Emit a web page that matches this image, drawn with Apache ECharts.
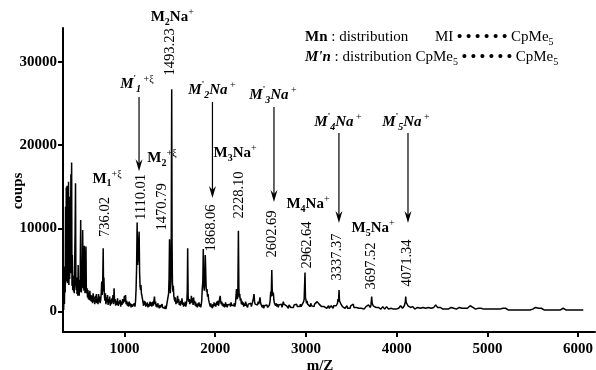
<!DOCTYPE html>
<html>
<head>
<meta charset="utf-8">
<script src="https://cdn.jsdelivr.net/npm/echarts@6/dist/echarts.min.js"></script>
<style>
  html, body { margin: 0; padding: 0; background: #fff; }
  #main { width: 596px; height: 370px; }
</style>
</head>
<body>
<div id="main"></div>
<script>
const FONT = '"Liberation Serif", "Times New Roman", serif';

// 坐标轴刻度
const xTicks = [1000, 2000, 3000, 4000, 5000, 6000];
const yTicks = [0, 10000, 20000, 30000];

// 质谱数据 [m/z, coups]
const spectrumLow = [
  [330,200],[335,2100],[339,900],[343,5400],[347,2300],[351,12600],[355,3600],[359,14900],[363,6200],[367,15100],
  [371,3400],[375,11800],[379,4800],[384,15600],[388,3200],[392,8800],[396,3900],[401,13800],[405,4600],[410,16500],
  [414,5200],[418,17900],[422,3100],[426,6800],[430,2600],[435,4300],[439,2400],[443,3700],[447,2200],[452,5900],
  [456,9400],[461,15400],[465,3300],[469,2600],[473,4100],[477,2100],[481,3300],[486,1900],[490,5600],[494,2500],
  [498,3400],[502,1900],[507,3800],[511,2400],[514,6300],[518,11000],[522,2900],[526,2300],[530,5200],[535,3100],
  [540,9800],[544,2800],[549,5400],[553,2500],[558,7900],[562,3400],[566,2200],[571,4200],[576,7800],[580,2900],
  [584,2200],[589,2800],[593,1700],[598,2600],[603,1500],[608,2300],[613,1400],[619,2500],[625,1300],[631,2000],
  [637,1200],[643,1900],[649,1000],[655,2200],[661,1200],[667,1700],[673,900],[679,1900],[685,1100],[691,2100],
  [697,1000],[703,1600],[709,900],[715,2100],[721,1200],[727,1800],[733,1000],[739,1500],[745,2300],[750,3600],
  [755,2000],[760,3000],[766,7600],[770,2400],[774,4100],[779,2000],[784,1300],[790,2200],[796,900],[802,1700],
  [808,1100],[814,2000],[820,800],[826,1500],[832,1000],[838,1800],[844,700],[850,1400],[856,900],[862,1600],
  [868,1100],[874,2000],[880,900],[886,2800],[891,1100],[897,1500],[903,700],[910,1300],[917,800],[924,1600],
  [931,700],[938,1200],[945,900],[952,1400],[959,600],[966,1200],[973,800],[980,1500],[987,1000],[994,1300],
  [1000,1900],[1006,1200],[1012,2000],[1018,900],[1025,1300],[1032,700],[1039,1100],[1046,600],[1053,1200],[1060,700],
  [1067,1000],[1074,500],[1081,900],[1088,600],[1095,800]
];
const spectrumMid = [
  [1102,500],[1109,1000],[1116,600],[1122,1200],[1128,2600],[1134,5200],[1140,10700],[1145,5600],[1150,6300],[1156,8200],
  [1162,9600],[1167,4800],[1172,3100],[1177,2600],[1182,3200],[1187,2200],[1193,1900],[1199,1500],[1205,1100],[1211,700],
  [1217,1300],[1223,800],[1229,1200],[1235,600],[1241,1000],[1247,700],[1253,1100],[1259,500],[1265,900],[1271,600],
  [1277,800],[1283,1200],[1289,700],[1295,1100],[1301,600],[1307,900],[1313,1200],[1319,700],[1325,1300],[1331,1800],
  [1337,900],[1343,1200],[1349,600],[1355,900],[1361,500],[1367,1000],[1373,700],[1379,900],[1385,400],[1391,800],
  [1397,500],[1403,700],[1409,400],[1415,900],[1421,500],[1427,700],[1433,300],[1439,600],[1445,400],[1451,700],
  [1457,300],[1463,600],[1469,400],[1475,500],[1481,800],[1487,2200],[1492,4000],[1497,8700],[1501,3300],[1506,2200],
  [1511,3600],[1516,9000],[1521,26700],[1525,8200],[1529,3500],[1534,2400],[1539,3100],[1544,1900],[1550,1500],[1556,1200],
  [1562,1700],[1568,900],[1574,1300],[1580,1000],[1586,1900],[1592,1100],[1598,1500],[1604,800],[1610,1200],[1616,700],
  [1622,1300],[1628,900],[1634,1600],[1640,800],[1646,1100],[1652,600],[1658,1000],[1664,700],[1670,1200],[1676,600],
  [1682,900],[1688,1300],[1693,2600],[1697,7600],[1702,1900],[1708,1200],[1714,1500],[1720,900],[1726,1400],[1732,1000],
  [1738,1900],[1744,1100],[1750,1600],[1756,800],[1762,1700],[1768,1000],[1774,1300],[1780,700],[1786,1100],[1792,600],
  [1798,900],[1804,500],[1810,1000],[1816,700],[1822,1100],[1828,600],[1834,900],[1840,500],[1846,800],[1852,1300],
  [1858,2800],[1864,3600],[1869,7500],[1874,3200],[1880,2500],[1886,3800],[1891,6800],[1896,6900],[1900,3000],[1905,2400],
  [1910,2700],[1916,1800],[1922,2100],[1928,1400],[1934,1100],[1940,900],[1946,600],[1952,1000],[1958,500],[1964,800],
  [1970,400],[1976,900],[1982,600],[1988,1100],[1994,700],[2000,1000],[2006,600],[2012,900],[2018,1200],[2024,800],
  [2030,1300],[2036,700],[2042,1000],[2048,1500],[2055,1900],[2061,1200],[2067,900],[2073,1200],[2079,700],[2085,1000],
  [2091,600],[2097,900],[2103,500],[2109,800],[2115,1100],[2121,600],[2127,900],[2133,500],[2139,800],[2145,600],
  [2151,1000],[2157,700],[2163,900],[2169,600],[2175,1100],[2181,800],[2187,1000],[2193,600],[2199,900],[2205,700],
  [2211,1000],[2217,600],[2223,900],[2229,700],[2235,2700],[2240,1800],[2245,1500],[2250,2300],[2256,9700],[2261,2900],
  [2266,1700],[2271,2100],[2277,1300],[2283,1600],[2289,900],[2295,1300]
];
const spectrumHigh = [
  [2301,800],[2308,1100],[2315,600],[2322,1000],[2329,700],[2336,1200],[2343,800],[2350,1000],[2357,500],[2364,900],
  [2371,700],[2378,1100],[2385,800],[2392,1000],[2399,600],[2406,900],[2413,700],[2420,1500],[2428,2100],[2434,1200],
  [2440,900],[2446,1100],[2453,700],[2460,1000],[2467,800],[2474,1200],[2481,900],[2488,1300],[2494,1700],[2500,1100],
  [2507,800],[2514,1000],[2521,500],[2528,800],[2535,400],[2542,700],[2549,500],[2556,900],[2563,600],[2570,800],
  [2577,500],[2584,700],[2591,500],[2598,800],[2605,1200],[2612,2400],[2618,1800],[2624,5000],[2629,2500],[2635,1900],
  [2641,2300],[2647,1400],[2653,1000],[2660,1200],[2667,700],[2674,1000],[2681,600],[2688,900],[2695,500],[2702,800],
  [2709,600],[2716,1000],[2723,700],[2730,900],[2737,500],[2744,800],[2751,1200],[2758,900],[2765,700],[2772,900],
  [2779,1100],[2786,700],[2793,500],[2800,700],[2807,400],[2814,800],[2821,600],[2828,900],[2835,500],[2842,700],
  [2849,400],[2856,700],[2863,500],[2870,800],[2877,600],[2884,1000],[2891,700],[2898,900],[2905,600],[2912,800],
  [2919,500],[2926,700],[2933,600],[2940,900],[2947,600],[2954,800],[2961,500],[2968,700],[2975,1200],[2981,1500],
  [2986,1300],[2990,4700],[2995,1700],[3001,1400],[3007,1000],[3013,1300],[3019,900],[3026,1100],[3033,700],[3040,900],
  [3047,600],[3054,1000],[3061,700],[3068,900],[3075,500],[3082,800],[3089,600],[3096,900],[3103,700],[3110,1000],
  [3117,800],[3124,1200],[3131,1000],[3138,1400],[3145,900],[3152,1100],[3159,700],[3166,900],[3173,600],[3180,800],
  [3187,500],[3194,700],[3201,600],[3208,800],[3215,500],[3222,700],[3229,400],[3236,600],[3243,500],[3250,700],
  [3257,400],[3264,600],[3271,500],[3278,700],[3285,500],[3292,600],[3299,400],[3306,700],[3313,600],[3320,800],
  [3327,500],[3334,700],[3341,600],[3348,1000],[3354,1500],[3360,1200],[3365,2600],[3370,1300],[3376,1500],[3382,1000],
  [3389,800],[3396,1000],[3403,600],[3410,800],[3417,500],[3424,700],[3431,400],[3438,600],[3445,500],[3452,700],
  [3459,400],[3466,600],[3473,300],[3480,500],[3487,400],[3494,700],[3501,500],[3508,800],[3515,600],[3522,900],
  [3529,500],[3536,700],[3543,400],[3550,600],[3557,500],[3564,700],[3571,400],[3578,600],[3585,400],[3592,500],
  [3599,300],[3606,500],[3613,400],[3620,600],[3627,400],[3634,500],[3641,300],[3648,500],[3655,400],[3662,600],
  [3669,500],[3676,700],[3683,500],[3690,800],[3697,600],[3704,700],[3711,500],[3717,800],[3721,1000],[3725,1800],
  [3730,1000],[3736,900],[3742,700],[3749,800],[3756,600],[3763,700],[3770,500],[3777,600],[3784,400],[3791,600],
  [3798,500],[3805,700],[3812,400],[3819,500],[3826,300],[3833,500],[3840,400],[3847,600],[3854,400],[3861,500],
  [3868,300],[3875,500],[3882,400],[3889,600],[3896,400],[3903,500],[3910,300],[3917,400],[3924,300],[3931,500],
  [3938,400],[3945,600],[3952,400],[3959,500],[3966,300],[3973,500],[3980,400],[3987,500],[3994,300],[4001,400],
  [4008,300],[4015,500],[4022,400],[4029,600],[4036,500],[4043,700],[4050,500],[4057,600],[4064,400],[4071,600],
  [4078,500],[4085,700],[4091,900],[4096,1200],[4100,1800],[4105,1100],[4111,900],[4118,1000],[4125,700],[4132,800],
  [4139,500]
];
const spectrumTail = [
  [4146,700],[4153,500],[4160,600],[4168,400],[4176,600],[4184,400],[4192,500],[4200,300],[4210,500],[4220,400],
  [4230,500],[4240,300],[4250,500],[4260,400],[4270,600],[4280,400],[4290,500],[4300,300],[4310,500],[4320,400],
  [4330,600],[4340,400],[4350,500],[4360,300],[4370,500],[4380,400],[4390,600],[4400,400],[4410,500],[4420,600],
  [4430,800],[4440,700],[4450,500],[4460,600],[4470,400],[4480,500],[4490,400],[4500,500],[4510,300],[4520,400],
  [4530,500],[4540,300],[4550,400],[4560,500],[4570,300],[4580,400],[4590,300],[4600,500],[4610,400],[4620,300],
  [4630,400],[4640,300],[4650,500],[4660,300],[4670,400],[4680,300],[4690,500],[4700,400],[4710,300],[4720,400],
  [4730,500],[4740,300],[4750,400],[4760,300],[4770,500],[4780,400],[4790,600],[4800,500],[4810,700],[4820,900],
  [4830,600],[4840,500],[4850,400],[4860,500],[4870,300],[4880,400],[4890,300],[4900,400],[4915,300],[4930,400],
  [4945,200],[4960,300],[4975,400],[4990,300],[5005,200],[5020,300],[5035,200],[5050,300],[5065,400],[5080,300],
  [5095,200],[5110,300],[5125,400],[5140,300],[5155,500],[5170,400],[5185,300],[5200,400],[5215,300],[5230,200],
  [5245,300],[5260,200],[5275,300],[5290,200],[5305,300],[5320,200],[5335,300],[5350,200],[5365,300],[5380,200],
  [5395,300],[5410,200],[5425,300],[5440,200],[5455,300],[5470,200],[5485,300],[5500,300],[5515,400],[5530,500],
  [5540,700],[5550,500],[5565,400],[5580,300],[5595,400],[5610,300],[5625,200],[5640,300],[5655,200],[5670,300],
  [5685,200],[5700,300],[5715,200],[5730,300],[5745,200],[5760,300],[5775,200],[5790,300],[5805,200],[5820,300],
  [5835,400],[5850,300],[5865,200],[5880,300],[5895,200],[5910,300],[5925,200],[5940,300],[5955,200],[5970,300],
  [5985,200],[6000,300],[6015,200],[6030,300],[6045,200],[6057,200]
];

// 峰值质量标注（竖排）
const peakNames = ['736.02', '1110.01', '1470.79', '1493.23', '1868.06', '2228.10', '2602.69', '2962.64', '3337.37', '3697.52', '4071.34'];
const peakMz = [786, 1183, 1414, 1502, 1954, 2263, 2626, 3012, 3343, 3718, 4114];
const peakY = [11360, 13770, 12570, 31180, 10040, 14000, 9320, 8000, 6560, 5480, 5840];

// 离子标注
const ionNames = [
  '{b|M}{bs|1}{sp|+ξ}',
  '{i|M}{ip|\'}{is|1}{sp| +ξ}',
  '{b|M}{bs|2}{sp|+ξ}',
  '{b|M}{bs|2}{b|Na}{sp|+}',
  '{i|M}{ip|\'}{is|2}{i|Na}{sp| +}',
  '{b|M}{bs|3}{b|Na}{sp|+}',
  '{i|M}{ip|\'}{is|3}{i|Na}{sp| +}',
  '{b|M}{bs|4}{b|Na}{sp|+}',
  '{i|M}{ip|\'}{is|4}{i|Na}{sp| +}',
  '{b|M}{bs|5}{b|Na}{sp|+}',
  '{i|M}{ip|\'}{is|5}{i|Na}{sp| +}'
];
const ionMz = [808, 1138, 1414, 1527, 1965, 2219, 2637, 3023, 3354, 3740, 4103];
const ionY = [15930, 27330, 18450, 35380, 26610, 19050, 26010, 12920, 22770, 10040, 22770];

// 箭头
const arrowMz = [1161, 1970, 2648, 3364, 4125];
const arrowTop = [25760, 25170, 24570, 21450, 21450];
const arrowTip = [16860, 13640, 13160, 10640, 10640];

const axisStyle = { color: '#000', width: 2 };
const tickFont = { color: '#000', fontFamily: FONT, fontWeight: 'bold', fontSize: 15, formatter: (v) => String(v) };

// 配置项
let option = {
    animation: false,
    backgroundColor: '#fff',
    grid: { left: 63, right: 1, top: 28, bottom: 38, outerBoundsMode: 'none' },
    xAxis: {
        type: 'value',
        min: 323,
        max: 6186,
        axisLine: { show: true, onZero: false, lineStyle: axisStyle },
        axisTick: { show: true, length: 5, customValues: xTicks, lineStyle: axisStyle },
        axisLabel: Object.assign({ customValues: xTicks, margin: 10 }, tickFont),
        splitLine: { show: false }
    },
    yAxis: {
        type: 'value',
        min: -2450,
        max: 34050,
        axisLine: { show: true, onZero: false, lineStyle: axisStyle },
        axisTick: { show: true, length: 5, customValues: yTicks, lineStyle: axisStyle },
        axisLabel: Object.assign({ customValues: yTicks, margin: 6 }, tickFont),
        splitLine: { show: false }
    },
    series: [{
        type: 'line',
        data: spectrumLow.concat(spectrumMid, spectrumHigh, spectrumTail),
        symbol: 'none',
        lineStyle: { color: '#000', width: 1.5 }
    }]
};

const richStyles = {
    b: { fontFamily: FONT, fontWeight: 'bold', fontSize: 15, lineHeight: 20 },
    bs: { fontFamily: FONT, fontWeight: 'bold', fontSize: 10, lineHeight: 11, verticalAlign: 'bottom' },
    sp: { fontFamily: FONT, fontSize: 10, lineHeight: 12, verticalAlign: 'top' },
    i: { fontFamily: FONT, fontWeight: 'bold', fontStyle: 'italic', fontSize: 15, lineHeight: 20 },
    is: { fontFamily: FONT, fontWeight: 'bold', fontStyle: 'italic', fontSize: 10, lineHeight: 11, verticalAlign: 'bottom' },
    ip: { fontFamily: FONT, fontWeight: 'bold', fontSize: 9, lineHeight: 10, verticalAlign: 'top' },
    r: { fontFamily: FONT, fontSize: 15, lineHeight: 20 },
    d: { fontFamily: FONT, fontWeight: 'bold', fontSize: 15, lineHeight: 20 },
    s: { fontFamily: FONT, fontSize: 10, lineHeight: 11, verticalAlign: 'bottom' }
};

function textEl(x, y, text, extra) {
    return Object.assign({
        type: 'text', x: x, y: y, silent: true,
        style: {
            text: text, fill: '#000', font: 'bold 15px ' + FONT, rich: richStyles,
            align: 'center', verticalAlign: 'middle', textAlign: 'center', textVerticalAlign: 'middle'
        }
    }, extra || {});
}

// 初始化
const init = () => {
    let chartDom = document.getElementById('main');
    let myChart = echarts.init(chartDom);
    myChart.setOption(option);

    const toPx = (mz, v) => myChart.convertToPixel({ gridIndex: 0 }, [mz, v]);
    const elements = [];

    // 竖排峰值
    peakNames.forEach((name, i) => {
        const p = toPx(peakMz[i], peakY[i]);
        const el = textEl(p[0], p[1], name, { rotation: Math.PI / 2 });
        el.style.font = '14.5px ' + FONT;
        elements.push(el);
    });

    // 离子名称
    ionNames.forEach((name, i) => {
        const p = toPx(ionMz[i], ionY[i]);
        elements.push(textEl(p[0], p[1], name));
    });

    // 箭头
    arrowMz.forEach((mz, i) => {
        const a = toPx(mz, arrowTop[i]);
        const b = toPx(mz, arrowTip[i]);
        elements.push({ type: 'line', silent: true, shape: { x1: a[0], y1: a[1], x2: b[0], y2: b[1] - 6 }, style: { stroke: '#000', lineWidth: 1.2 } });
        elements.push({
            type: 'polygon', silent: true,
            shape: { points: [[b[0], b[1]], [b[0] - 3.5, b[1] - 12], [b[0], b[1] - 8], [b[0] + 3.5, b[1] - 12]] },
            style: { fill: '#000' }
        });
    });

    // 图例说明
    const legendStyle = { align: 'left', textAlign: 'left' };
    const l1 = textEl(305, 37, '{b|Mn}{r| : distribution}');
    Object.assign(l1.style, legendStyle);
    const l2 = textEl(435, 37, '{r|MI }{d|• • • • • •}{r| CpMe}{s|5}');
    Object.assign(l2.style, legendStyle);
    const l3 = textEl(305, 57, '{i|M\'n}{r| : distribution CpMe}{s|5}{d| • • • • • •}{r| CpMe}{s|5}');
    Object.assign(l3.style, legendStyle);
    elements.push(l1, l2, l3);

    // 坐标轴名称
    elements.push(textEl(18, 191, 'coups', { rotation: Math.PI / 2 }));
    elements.push(textEl(320, 366, 'm/Z'));

    myChart.setOption({ graphic: { elements: elements } });
};

init();
</script>
</body>
</html>
